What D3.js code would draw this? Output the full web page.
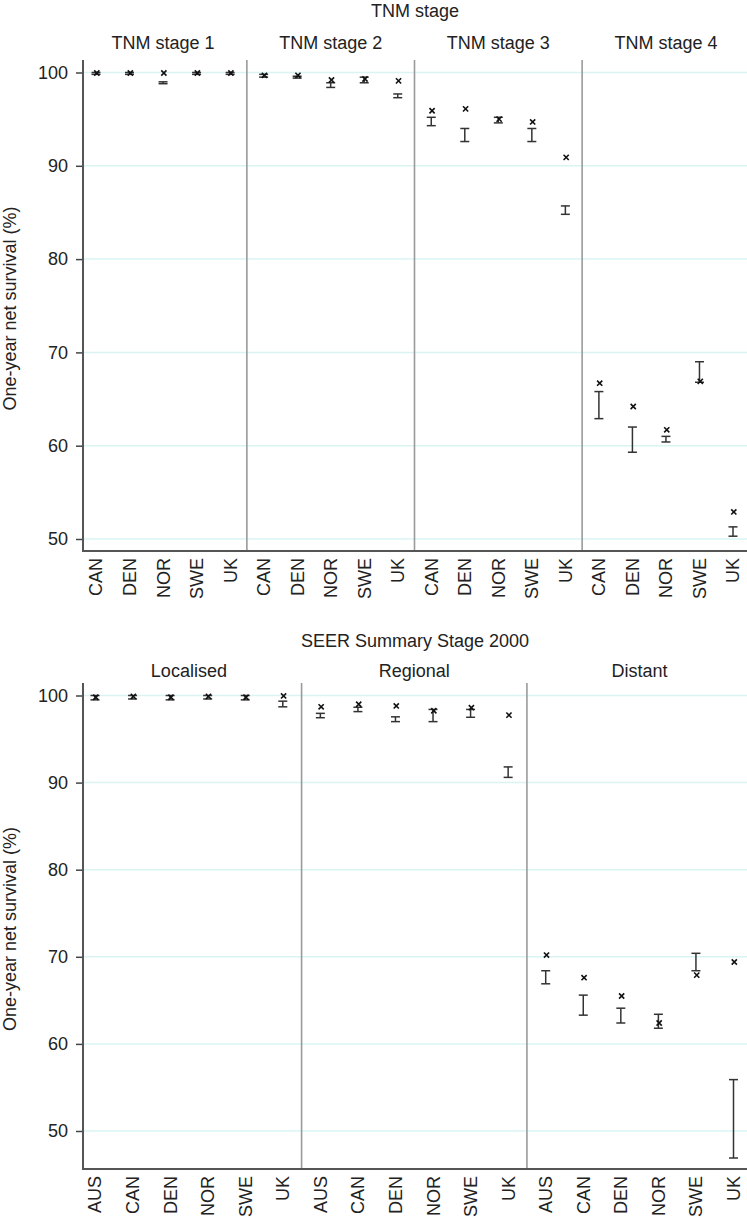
<!DOCTYPE html>
<html>
<head>
<meta charset="utf-8">
<script src="https://cdn.jsdelivr.net/npm/d3@7/dist/d3.min.js"></script>
<style>
  html, body { margin: 0; padding: 0; background: #fff; }
  svg { display: block; font-family: "Liberation Sans", Arial, Helvetica, sans-serif; }
</style>
</head>
<body>
<svg id="chart" width="747" height="1220"></svg>
<script>
// ---------------- DATA ----------------
const yTicks = [50, 60, 70, 80, 90, 100];

// Top panel: TNM stage
const tnmTitle = "TNM stage";
const tnmStages = ["TNM stage 1", "TNM stage 2", "TNM stage 3", "TNM stage 4"];
const tnmCountries = ["CAN", "DEN", "NOR", "SWE", "UK"];
const tnmEstimate = [
  [99.95, 99.95, 99.95, 99.95, 99.95],
  [99.7, 99.7, 99.2, 99.3, 99.1],
  [95.9, 96.1, 95.0, 94.7, 90.9],
  [66.7, 64.2, 61.7, 66.9, 52.9]
];
const tnmLower = [
  [99.8, 99.8, 98.8, 99.8, 99.8],
  [99.5, 99.4, 98.4, 98.9, 97.3],
  [94.3, 92.6, 94.6, 92.6, 84.8],
  [62.9, 59.3, 60.4, 66.8, 50.3]
];
const tnmUpper = [
  [100.0, 100.0, 99.0, 100.0, 100.0],
  [99.8, 99.6, 98.9, 99.5, 97.7],
  [95.2, 94.0, 95.2, 94.0, 85.7],
  [65.8, 62.0, 61.0, 69.0, 51.3]
];

// Bottom panel: SEER Summary Stage 2000
const seerTitle = "SEER Summary Stage 2000";
const seerStages = ["Localised", "Regional", "Distant"];
const seerCountries = ["AUS", "CAN", "DEN", "NOR", "SWE", "UK"];
const seerEstimate = [
  [99.8, 99.9, 99.8, 99.9, 99.8, 99.95],
  [98.7, 99.0, 98.8, 98.25, 98.6, 97.75],
  [70.2, 67.6, 65.5, 62.4, 67.9, 69.4]
];
const seerLower = [
  [99.5, 99.6, 99.5, 99.6, 99.5, 98.7],
  [97.45, 98.15, 97.0, 97.0, 97.5, 90.6],
  [66.9, 63.3, 62.4, 61.8, 68.4, 46.9]
];
const seerUpper = [
  [100.0, 100.0, 100.0, 100.0, 100.0, 99.35],
  [97.95, 98.65, 97.55, 98.4, 98.4, 91.8],
  [68.4, 65.6, 64.1, 63.4, 70.4, 55.9]
];

const yAxisTitle = "One-year net survival (%)";

// ---------------- DRAW ----------------
const svg = d3.select("#chart");
const FONT = 18;

function drawBlock(cfg) {
  const g = svg.append("g");
  const keys = [];
  cfg.stages.forEach((s, si) => cfg.countries.forEach((c, ci) => keys.push(si + "|" + ci)));
  const x = d3.scalePoint().domain(keys).range(cfg.xRange).padding(0);
  const y = d3.scaleLinear().domain([50, 100]).range([cfg.y50, cfg.y100]);
  const step = x.step();
  const left = cfg.axisX, right = 747;

  // gridlines
  g.append("g").selectAll("line").data(yTicks).join("line")
    .attr("x1", left).attr("x2", right)
    .attr("y1", d => y(d)).attr("y2", d => y(d))
    .attr("stroke", "#daf4f4").attr("stroke-width", 1.5);

  // panel dividers
  const divs = cfg.stages.slice(1).map((s, i) => {
    const a = x((i) + "|" + (cfg.countries.length - 1));
    const b = x((i + 1) + "|0");
    return (a + b) / 2;
  });
  g.append("g").selectAll("line").data(divs).join("line")
    .attr("x1", d => d).attr("x2", d => d)
    .attr("y1", cfg.plotTop).attr("y2", cfg.axisY)
    .attr("stroke", "#9a9a9a").attr("stroke-width", 1.6);

  // y axis
  const ax = g.append("g").attr("transform", `translate(${left},0)`)
    .call(d3.axisLeft(y).tickValues(yTicks).tickSize(7).tickPadding(8).tickFormat(d3.format("d")));
  ax.select(".domain").remove();
  ax.selectAll(".tick line").attr("stroke", "#444").attr("stroke-width", 1.5);
  ax.selectAll(".tick text").attr("font-size", FONT).attr("fill", "#222")
    .attr("font-family", "Liberation Sans, Arial, sans-serif");

  // axis lines
  g.append("line").attr("x1", left).attr("x2", left)
    .attr("y1", cfg.plotTop).attr("y2", cfg.axisY + 1)
    .attr("stroke", "#555").attr("stroke-width", 2);
  g.append("line").attr("x1", left).attr("x2", right)
    .attr("y1", cfg.axisY).attr("y2", cfg.axisY)
    .attr("stroke", "#555").attr("stroke-width", 2);

  // titles
  g.append("text").attr("x", (left + right) / 2).attr("y", cfg.titleY)
    .attr("text-anchor", "middle").attr("font-size", FONT).attr("fill", "#222")
    .text(cfg.title);
  g.append("g").selectAll("text").data(cfg.stages).join("text")
    .attr("x", (d, i) => (x(i + "|0") + x(i + "|" + (cfg.countries.length - 1))) / 2)
    .attr("y", cfg.stageY)
    .attr("text-anchor", "middle").attr("font-size", FONT).attr("fill", "#222")
    .text(d => d);

  // y axis title
  g.append("text")
    .attr("transform", `translate(16,${(cfg.plotTop + cfg.axisY) / 2 + 3}) rotate(-90)`)
    .attr("text-anchor", "middle").attr("font-size", FONT).attr("fill", "#222")
    .text(yAxisTitle);

  // x labels
  g.append("g").selectAll("text").data(keys).join("text")
    .attr("transform", d => `translate(${x(d)},${cfg.axisY + 7}) rotate(-90)`)
    .attr("text-anchor", "end").attr("dy", "0.36em")
    .attr("font-size", FONT).attr("fill", "#222")
    .text(d => cfg.countries[+d.split("|")[1]]);

  // data
  const pts = keys.map(k => {
    const [si, ci] = k.split("|").map(Number);
    return { k, est: cfg.est[si][ci], lo: cfg.lo[si][ci], hi: cfg.hi[si][ci] };
  });
  const cap = 4.5;
  const eb = g.append("g").attr("stroke", "#333").attr("stroke-width", 1.5).attr("fill", "none");
  const ebs = eb.selectAll("g").data(pts).join("g");
  ebs.append("line").attr("x1", d => x(d.k)).attr("x2", d => x(d.k))
    .attr("y1", d => y(d.lo)).attr("y2", d => y(d.hi));
  ebs.append("line").attr("x1", d => x(d.k) - cap).attr("x2", d => x(d.k) + cap)
    .attr("y1", d => y(d.lo)).attr("y2", d => y(d.lo));
  ebs.append("line").attr("x1", d => x(d.k) - cap).attr("x2", d => x(d.k) + cap)
    .attr("y1", d => y(d.hi)).attr("y2", d => y(d.hi));

  const cs = 2.6;
  g.append("g").selectAll("path").data(pts).join("path")
    .attr("d", d => {
      const cx = x(d.k) + 0.8, cy = y(d.est);
      return `M${cx - cs},${cy - cs}L${cx + cs},${cy + cs}M${cx - cs},${cy + cs}L${cx + cs},${cy - cs}`;
    })
    .attr("stroke", "#111").attr("stroke-width", 1.6).attr("fill", "none");
}

drawBlock({
  title: tnmTitle, stages: tnmStages, countries: tnmCountries,
  est: tnmEstimate, lo: tnmLower, hi: tnmUpper,
  xRange: [96, 733], y50: 539, y100: 72.5,
  axisX: 83, plotTop: 60, axisY: 551,
  titleY: 17, stageY: 49
});

drawBlock({
  title: seerTitle, stages: seerStages, countries: seerCountries,
  est: seerEstimate, lo: seerLower, hi: seerUpper,
  xRange: [95, 733.5], y50: 1131, y100: 695.5,
  axisX: 83, plotTop: 683, axisY: 1169,
  titleY: 647, stageY: 677
});
</script>
</body>
</html>
